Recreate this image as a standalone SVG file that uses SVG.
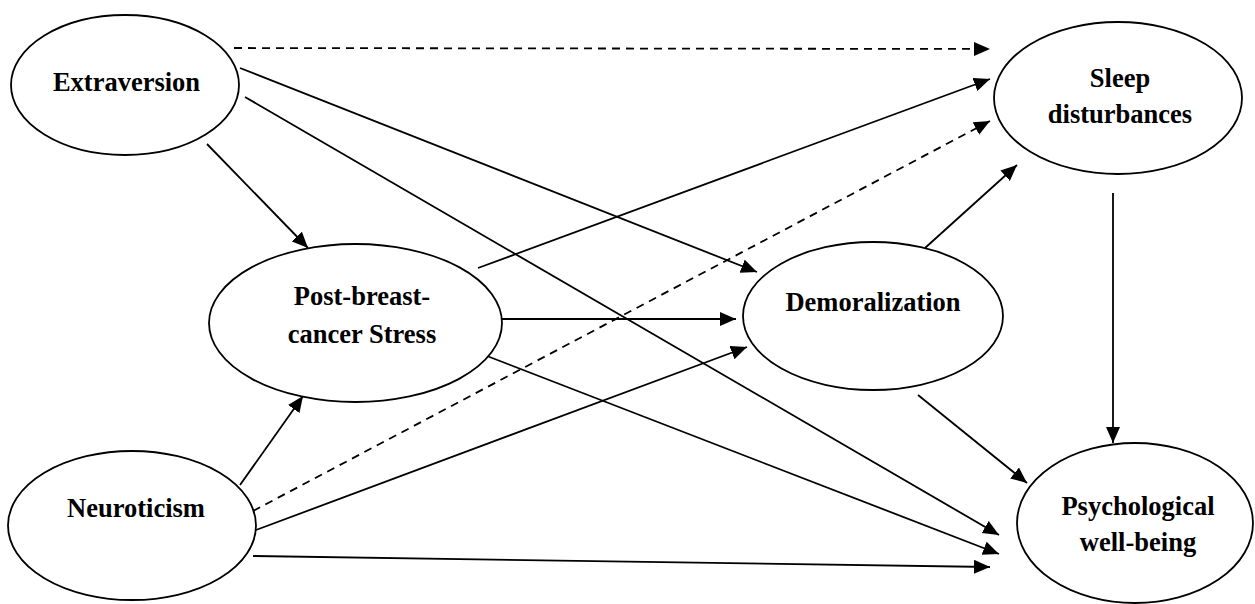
<svg xmlns="http://www.w3.org/2000/svg" width="1255" height="604" viewBox="0 0 1255 604">
<style>
.node ellipse{fill:#fff;stroke:#000;stroke-width:1.8}
.node text{font-family:"Liberation Serif","Times New Roman",serif;font-weight:bold;font-size:26.5px;text-anchor:middle;fill:#000}
.c line{stroke:#000;stroke-width:1.8;fill:none}
.c line.d{stroke-dasharray:8 6}
</style>
<defs>
<marker id="ah" markerUnits="userSpaceOnUse" markerWidth="17" markerHeight="15" refX="16" refY="7" orient="auto">
<path d="M0,0 L16,7 L0,14 z" fill="#000"/>
</marker>
</defs>
<rect width="1255" height="604" fill="#fff"/>
<g id="connectors" class="c">
<line class="d" x1="234" y1="48" x2="990" y2="49" marker-end="url(#ah)"/>
<line x1="240" y1="68" x2="757" y2="272" marker-end="url(#ah)"/>
<line x1="245" y1="97" x2="999" y2="535" marker-end="url(#ah)"/>
<line x1="207" y1="144" x2="308" y2="248" marker-end="url(#ah)"/>
<line x1="478" y1="268" x2="990" y2="79" marker-end="url(#ah)"/>
<line class="d" x1="253" y1="511" x2="990" y2="121" marker-end="url(#ah)"/>
<line x1="925" y1="248" x2="1017" y2="165" marker-end="url(#ah)"/>
<line x1="1113" y1="193" x2="1113" y2="443" marker-end="url(#ah)"/>
<line x1="502" y1="319" x2="736" y2="319" marker-end="url(#ah)"/>
<line x1="256" y1="530" x2="747" y2="347" marker-end="url(#ah)"/>
<line x1="240" y1="485" x2="303" y2="396" marker-end="url(#ah)"/>
<line x1="487" y1="356" x2="999" y2="554" marker-end="url(#ah)"/>
<line x1="918" y1="395" x2="1027" y2="483" marker-end="url(#ah)"/>
<line x1="253" y1="556" x2="990" y2="567" marker-end="url(#ah)"/>
</g>
<g id="extraversion" class="node">
<ellipse cx="125" cy="85" rx="114" ry="70"/>
<text x="126.5" y="91">Extraversion</text>
</g>
<g id="sleep" class="node">
<ellipse cx="1118" cy="98" rx="124" ry="76"/>
<text x="1120" y="87">Sleep</text>
<text x="1120" y="123">disturbances</text>
</g>
<g id="stress" class="node">
<ellipse cx="355.5" cy="323" rx="146.5" ry="79"/>
<text x="362" y="305">Post-breast-</text>
<text x="362" y="343">cancer Stress</text>
</g>
<g id="demoralization" class="node">
<ellipse cx="873" cy="316" rx="130" ry="74"/>
<text x="873" y="311">Demoralization</text>
</g>
<g id="neuroticism" class="node">
<ellipse cx="132" cy="525.5" rx="124" ry="74.5"/>
<text x="136" y="517">Neuroticism</text>
</g>
<g id="wellbeing" class="node">
<ellipse cx="1135" cy="523" rx="118" ry="80"/>
<text x="1138" y="515">Psychological</text>
<text x="1138" y="551">well-being</text>
</g>
</svg>
